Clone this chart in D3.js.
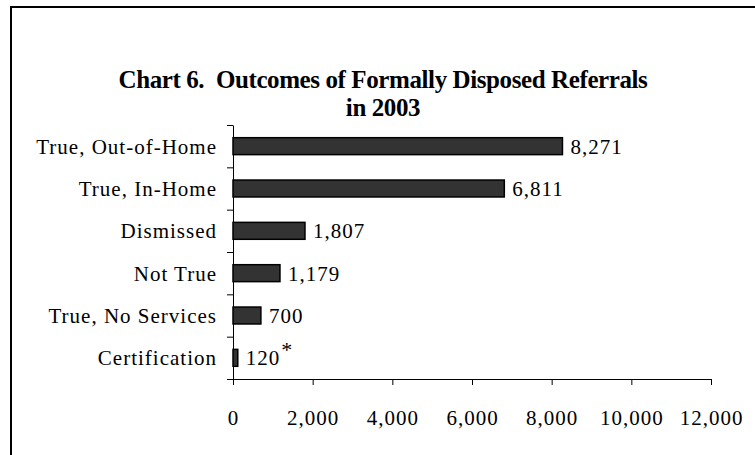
<!DOCTYPE html>
<html>
<head>
<meta charset="utf-8">
<script src="https://cdn.jsdelivr.net/npm/d3@7"></script>
<style>
body { margin: 0; background: #fff; }
text { font-family: "Liberation Serif", "Times New Roman", serif; fill: #000; }
</style>
</head>
<body>
<svg id="chart"></svg>
<script>
var screen = {width: 755, height: 455}
var margins = {top: 125, right: 44, left: 233, bottom: 76}

// data
var categories = ["True, Out-of-Home", "True, In-Home", "Dismissed", "Not True", "True, No Services", "Certification"]
var values = [8271, 6811, 1807, 1179, 700, 120]
var notes = ["", "", "", "", "", "*"]
var xTicks = [0, 2000, 4000, 6000, 8000, 10000, 12000]
var titleLines = ["Chart 6.  Outcomes of Formally Disposed Referrals", "in 2003"]

var rows = categories.map(function(c, i) {
    return {name: c, value: values[i], note: notes[i]}
})

var svg = d3.select("#chart")
    .attr("width", screen.width)
    .attr("height", screen.height)

// outer frame, runs off the right and bottom edge
svg.append("rect")
    .attr("x", 11).attr("y", 7)
    .attr("width", 760).attr("height", 460)
    .attr("fill", "none")
    .attr("stroke", "#000")
    .attr("stroke-width", 2)

svg.selectAll(".title")
    .data(titleLines)
    .enter()
    .append("text")
    .attr("class", "title")
    .attr("x", 383)
    .attr("y", function(d, i) { return 88 + i * 28 })
    .attr("text-anchor", "middle")
    .style("font-size", "25px")
    .style("font-weight", "bold")
    .style("letter-spacing", "-0.4px")
    .style("white-space", "pre")
    .text(function(d) { return d })

var plotW = screen.width - margins.left - margins.right
var plotH = screen.height - margins.top - margins.bottom

var x = d3.scaleLinear()
    .domain([0, 12000])
    .range([margins.left, margins.left + plotW])

var y = d3.scaleBand()
    .domain(categories)
    .range([margins.top, margins.top + plotH])
    .paddingInner(0.6)
    .paddingOuter(0.3)

// boundaries between categories for the tick marks
var yEdge = d3.scaleLinear()
    .domain([0, categories.length])
    .range([margins.top, margins.top + plotH])

var yAxis = svg.append("g")
    .attr("transform", "translate(" + margins.left + ",0)")
    .call(d3.axisLeft(yEdge)
        .tickValues(d3.range(categories.length + 1))
        .tickFormat("")
        .tickSize(6)
        .tickSizeOuter(0))
yAxis.select(".domain").attr("stroke", "#000").attr("stroke-width", 1)

var xAxis = svg.append("g")
    .attr("transform", "translate(0," + (margins.top + plotH) + ")")
    .call(d3.axisBottom(x)
        .tickValues(xTicks)
        .tickFormat(d3.format(","))
        .tickSize(6)
        .tickSizeOuter(0)
        .tickPadding(25))
xAxis.selectAll("text")
    .style("font-size", "21px")
    .style("letter-spacing", "1px")
    .style("font-family", "'Liberation Serif', 'Times New Roman', serif")
xAxis.select(".domain").attr("stroke", "#000")

svg.selectAll(".cat")
    .data(rows)
    .enter()
    .append("text")
    .attr("class", "cat")
    .attr("x", margins.left - 16)
    .attr("y", function(d) { return y(d.name) + y.bandwidth() / 2 })
    .attr("dy", "0.35em")
    .attr("text-anchor", "end")
    .style("font-size", "21px")
    .style("letter-spacing", "1px")
    .text(function(d) { return d.name })

svg.selectAll(".bar")
    .data(rows)
    .enter()
    .append("rect")
    .attr("class", "bar")
    .attr("x", x(0))
    .attr("y", function(d) { return y(d.name) })
    .attr("width", function(d) { return x(d.value) - x(0) })
    .attr("height", y.bandwidth())
    .attr("fill", "#333333")
    .attr("stroke", "#000")
    .attr("stroke-width", 1.5)

var labels = svg.selectAll(".val")
    .data(rows)
    .enter()
    .append("text")
    .attr("class", "val")
    .attr("x", function(d) { return x(d.value) + 8 })
    .attr("y", function(d) { return y(d.name) + y.bandwidth() / 2 })
    .attr("dy", "0.35em")
    .style("font-size", "21px")
    .style("letter-spacing", "1px")
    .text(function(d) { return d3.format(",")(d.value) })

labels.filter(function(d) { return d.note != "" })
    .append("tspan")
    .attr("dy", "-0.35em")
    .attr("dx", "1")
    .style("font-size", "22px")
    .text(function(d) { return d.note })
</script>
</body>
</html>
